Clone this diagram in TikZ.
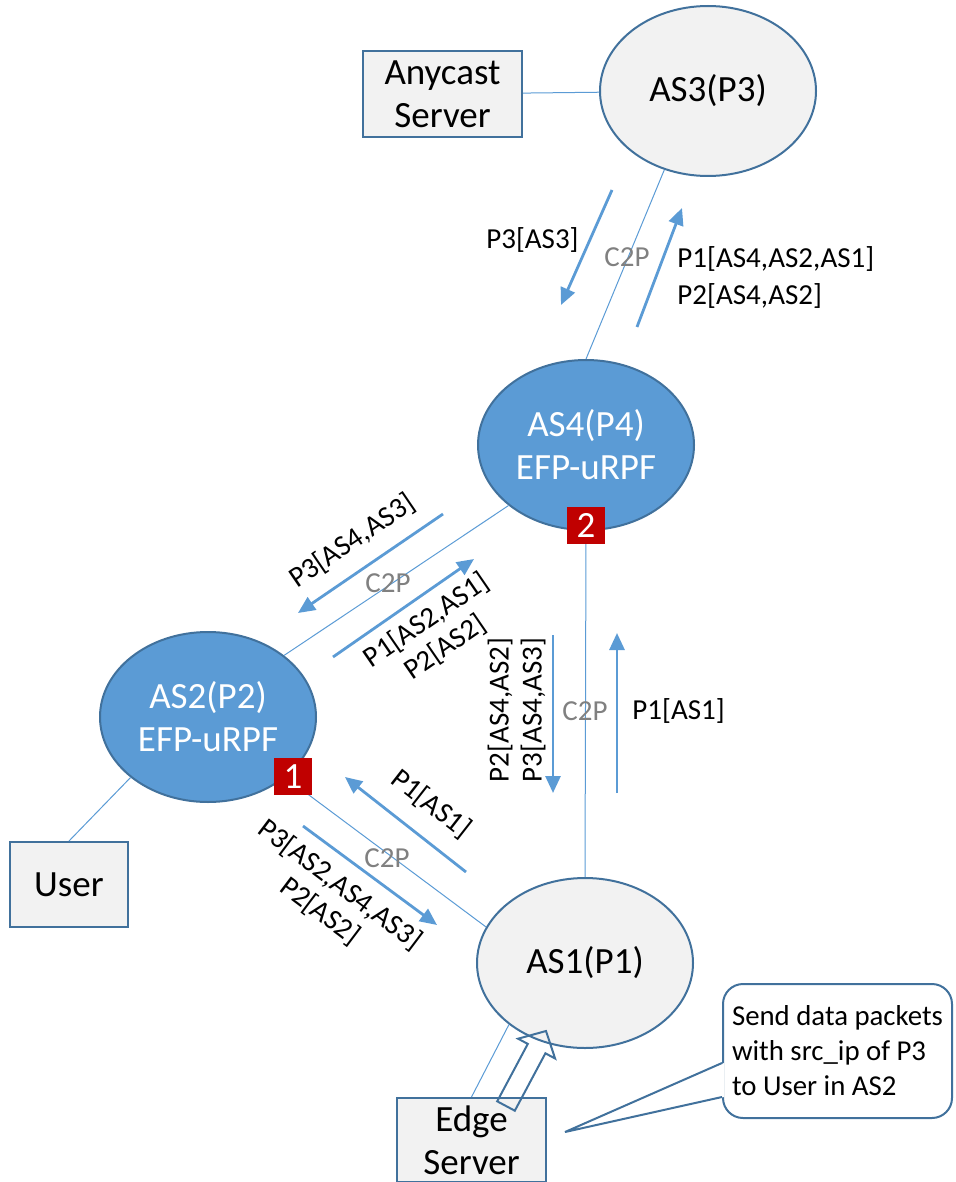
\documentclass[tikz,border=0pt]{standalone}
\usepackage{fontspec}
\setmainfont{Carlito}
\usetikzlibrary{arrows.meta,shapes.geometric}
\definecolor{asline}{HTML}{41719C}
\definecolor{asblue}{HTML}{5B9BD5}
\definecolor{asgray}{HTML}{F2F2F2}
\definecolor{tagred}{HTML}{C00000}

\begin{document}
\begin{tikzpicture}[x=0.5pt, y=-0.5pt, >={Triangle[length=8.5pt,width=7.5pt]},
	   big/.style={font=\fontsize{18.5}{21.5}\selectfont},
	   lbl/.style={font=\fontsize{14.5}{16.5}\selectfont, inner sep=0pt, align=center},
	   c2p/.style={lbl, text=black!50},
	   as/.style={ellipse, draw=asline, line width=1pt, fill=asgray, minimum width=108pt, minimum height=85pt, inner sep=0pt, align=center, big},
	   efp/.style={as, fill=asblue, text=white},
	   box/.style={draw=asline, line width=1pt, fill=asgray, inner sep=0pt, align=center, big},
	   tag/.style={fill=tagred, text=white, minimum width=19pt, minimum height=18.5pt, inner sep=0pt, big},
	   link/.style={asblue, line width=0.5pt},
	   flow/.style={->, asblue, line width=1.4pt}]
	  \useasboundingbox (0,0) rectangle (956,1182);
	  \node[as] (as3) at (708,91) {AS3(P3)};
	  \node[efp] (as4) at (586,445) {AS4(P4)\\EFP-uRPF};
	  \node[efp] (as2) at (208,717) {AS2(P2)\\EFP-uRPF};
	  \node[as] (as1) at (585,963) {AS1(P1)};
	  \node[box, minimum width=79.5pt, minimum height=43pt] (any) at (442.5,94) {Anycast\\Server};
	  \node[box, minimum width=59pt, minimum height=42.5pt] (user) at (69,884.5) {User};
	  \node[box, minimum width=74.5pt, minimum height=42pt] (edge) at (471.5,1140) {Edge\\Server};
	  \draw[link] (any) -- (as3);
	  \draw[link] (as3.241) -- (as4.north);
	  \draw[link] (as4.218) -- (as2.39);
	  \draw[link] (as4.south) -- (as1.north);
	  \draw[link] (as2.-38) -- (as1.160);
	  \draw[link] (user.north) -- (as2.218);
	  \draw[link] (edge.north) -- (as1.219);
	  \node[tag] (t1) at (293,776.5) {1};
	  \node[tag] (t2) at (586,525) {2};
	  \coordinate (a1) at (612,190); \coordinate (b1) at (561,305);
	  \coordinate (a2) at (637,327); \coordinate (b2) at (682,208);
	  \coordinate (a3) at (443,514); \coordinate (b3) at (298,613);
	  \coordinate (a4) at (333,657); \coordinate (b4) at (474,559);
	  \coordinate (a5) at (553,635); \coordinate (b5) at (553,793);
	  \coordinate (a6) at (617,793); \coordinate (b6) at (617,633);
	  \coordinate (a7) at (466,872); \coordinate (b7) at (345,777);
	  \coordinate (a8) at (303,826); \coordinate (b8) at (437,925);
	  \foreach \i in {1,...,8} \draw[flow] (a\i) -- (b\i);
	  \node[lbl, anchor=east] (l1) at (579,240) {P3[AS3]};
	  \node[c2p] (c1) at (627,257) {C2P};
	  \node[lbl, anchor=west, align=left, font=\fontsize{14.5}{18.5}\selectfont] (l2) at (677,277) {P1[AS4,AS2,AS1]\\P2[AS4,AS2]};
	  \node[lbl, rotate=34.3] (l3) at (352,541) {P3[AS4,AS3]};
	  \node[c2p] (c2) at (388,583) {C2P};
	  \node[lbl, rotate=34.5] (l4) at (436,634) {P1[AS2,AS1]\\P2[AS2]};
	  \node[lbl, rotate=90] (l5) at (516.5,710) {P2[AS4,AS2]\\P3[AS4,AS3]};
	  \node[c2p] (c3) at (585,711) {C2P};
	  \node[lbl, anchor=west] (l6) at (632,711) {P1[AS1]};
	  \node[lbl, rotate=-38] (l7) at (431,804) {P1[AS1]};
	  \node[c2p] (c4) at (387,858) {C2P};
	  \node[lbl, rotate=-37] (l8) at (330,898) {P3[AS2,AS4,AS3]\\P2[AS2]};
	  \draw[asline, line width=1pt] (497.2,1101.3) -- (527.8,1043.9) -- (518.1,1038.7) -- (546,1031)
	    -- (555.1,1058.5) -- (545.4,1053.3) -- (514.8,1110.7) -- cycle;
	  \node[draw=asline, line width=1pt, rounded corners=10pt, fill=white, minimum width=114.5pt, minimum height=67pt,
	    inner sep=3pt, align=left, font=\fontsize{14.4}{17.5}\selectfont] (note) at (837.5,1051)
	    {Send data packets\\with src\_ip of P3\\to User in AS2};
	  \coordinate (tip) at (565,1132);
	  \fill[white] ([shift={(1pt,-6pt)}]note.west) -- (tip) -- ([shift={(1pt,-23pt)}]note.west) -- cycle;
	  \draw[asline, line width=1pt] ([yshift=-6pt]note.west) -- (tip) -- ([yshift=-23pt]note.west);
	\end{tikzpicture}
\end{document}
